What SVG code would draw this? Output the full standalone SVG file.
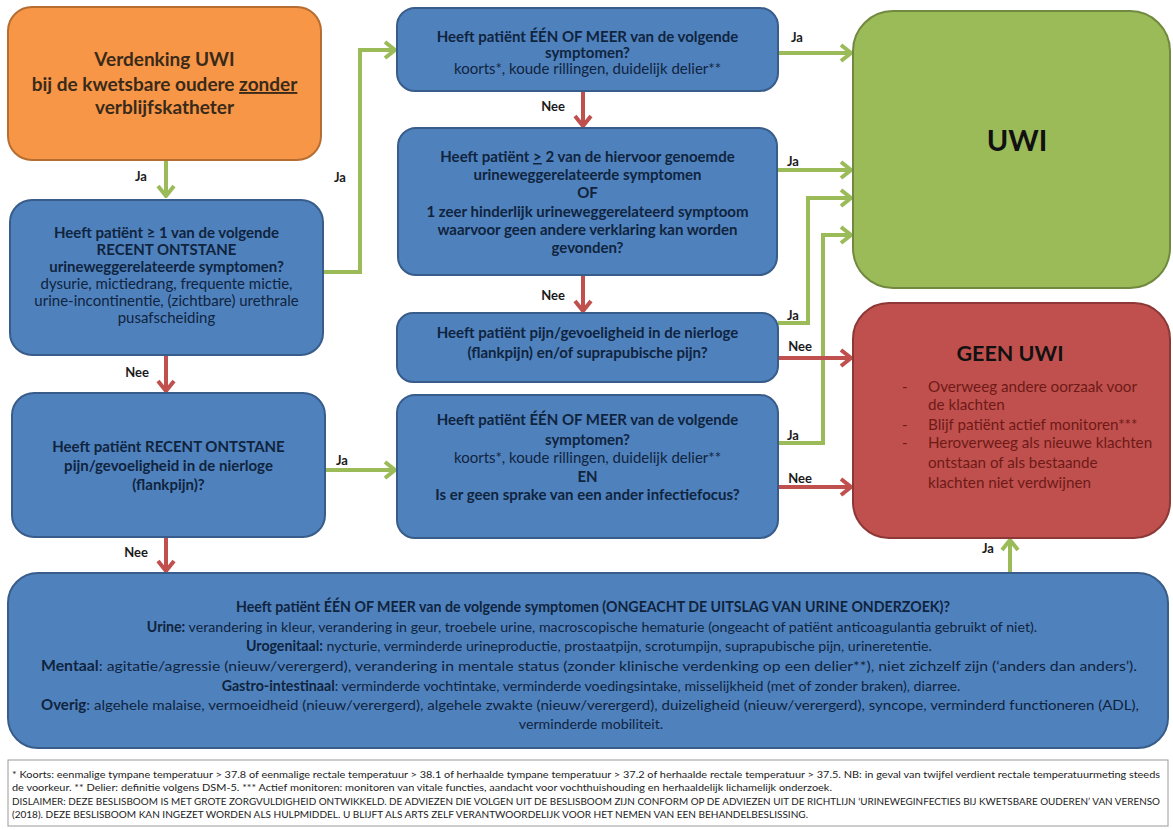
<svg xmlns="http://www.w3.org/2000/svg" width="1173" height="830" viewBox="0 0 1173 830">
<style>
text { font-family: Lato, "Liberation Sans", sans-serif; }
.box-blue { fill: #4F81BD; stroke: #385D8A; stroke-width: 2; }
.box-orange { fill: #F79646; stroke: #B66D31; stroke-width: 2; }
.box-green { fill: #9BBB59; stroke: #71893F; stroke-width: 2; }
.box-red { fill: #C0504D; stroke: #8C3836; stroke-width: 2; }
.t { fill: #0F243E; font-size: 15px; text-anchor: middle; }
.tb { font-weight: bold; }
.lbl { fill: #1a1a1a; font-size: 13px; font-weight: bold; text-anchor: middle; }
.g { fill: none; stroke: #9BBB59; stroke-width: 4; }
.r { fill: none; stroke: #C0504D; stroke-width: 4; }
.bt { fill: #0F243E; font-size: 14.2px; text-anchor: middle; }
.ft { fill: #222; font-size: 10px; }
.gt { fill: #6d1a18; font-size: 15.2px; }
</style>
<defs>
<marker id="ag" viewBox="-13 -10 15 20" refX="0" refY="0" markerWidth="15" markerHeight="20" markerUnits="userSpaceOnUse" orient="auto">
<path d="M-10,-8 L0,0 L-10,8" fill="none" stroke="#9BBB59" stroke-width="4"/>
</marker>
<marker id="ar" viewBox="-13 -10 15 20" refX="0" refY="0" markerWidth="15" markerHeight="20" markerUnits="userSpaceOnUse" orient="auto">
<path d="M-10,-8 L0,0 L-10,8" fill="none" stroke="#C0504D" stroke-width="4"/>
</marker>
</defs>
<rect width="1173" height="830" fill="#ffffff"/>

<g id="connectors">
<path class="g" d="M166,160 V196" marker-end="url(#ag)"/>
<path class="g" d="M323,272 H360 V50 H395" marker-end="url(#ag)"/>
<path class="g" d="M778,53 H851" marker-end="url(#ag)"/>
<path class="g" d="M777,170 H851" marker-end="url(#ag)"/>
<path class="g" d="M778,323 H808 V198 H851" marker-end="url(#ag)"/>
<path class="g" d="M778,443 H823 V235 H851" marker-end="url(#ag)"/>
<path class="g" d="M325,470 H395" marker-end="url(#ag)"/>
<path class="g" d="M1010,573 V540" marker-end="url(#ag)"/>
<path class="r" d="M166,355 V391" marker-end="url(#ar)"/>
<path class="r" d="M166,537 V571" marker-end="url(#ar)"/>
<path class="r" d="M583,91 V126" marker-end="url(#ar)"/>
<path class="r" d="M583,275 V311" marker-end="url(#ar)"/>
<path class="r" d="M778,358 H851" marker-end="url(#ar)"/>
<path class="r" d="M778,487 H851" marker-end="url(#ar)"/>
<text class="lbl" x="141" y="181">Ja</text>
<text class="lbl" x="340" y="182">Ja</text>
<text class="lbl" x="137" y="377">Nee</text>
<text class="lbl" x="136" y="557">Nee</text>
<text class="lbl" x="342" y="465">Ja</text>
<text class="lbl" x="553" y="111">Nee</text>
<text class="lbl" x="553" y="300">Nee</text>
<text class="lbl" x="797" y="42">Ja</text>
<text class="lbl" x="793" y="166">Ja</text>
<text class="lbl" x="793" y="320">Ja</text>
<text class="lbl" x="800" y="351">Nee</text>
<text class="lbl" x="793" y="440">Ja</text>
<text class="lbl" x="800" y="483">Nee</text>
<text class="lbl" x="988" y="553">Ja</text>
</g>

<g id="start">
<rect class="box-orange" x="8" y="7" width="313" height="153" rx="24"/>
<text x="164.5" y="66" font-size="19" font-weight="bold" fill="#3a2a1a" text-anchor="middle">Verdenking UWI</text>
<text x="164.5" y="91" font-size="19" font-weight="bold" fill="#3a2a1a" text-anchor="middle">bij de kwetsbare oudere <tspan text-decoration="underline">zonder</tspan></text>
<text x="164.5" y="114" font-size="19" font-weight="bold" fill="#3a2a1a" text-anchor="middle">verblijfskatheter</text>
</g>

<g id="q-recent-symptoms">
<rect class="box-blue" x="10" y="200" width="313" height="155" rx="22"/>
<text class="t tb" x="166.5" y="238">Heeft patiënt ≥ 1 van de volgende</text>
<text class="t tb" x="166.5" y="255">RECENT ONTSTANE</text>
<text class="t tb" x="166.5" y="272">urineweggerelateerde symptomen?</text>
<text class="t" x="166.5" y="289">dysurie, mictiedrang, frequente mictie,</text>
<text class="t" x="166.5" y="306">urine-incontinentie, (zichtbare) urethrale</text>
<text class="t" x="166.5" y="323">pusafscheiding</text>
</g>

<g id="q-recent-flank">
<rect class="box-blue" x="12" y="393" width="313" height="144" rx="22"/>
<text class="t tb" x="168.5" y="452" font-size="14.5">Heeft patiënt RECENT ONTSTANE</text>
<text class="t tb" x="168.5" y="471" font-size="14.5">pijn/gevoeligheid in de nierloge</text>
<text class="t tb" x="168.5" y="490" font-size="14.5">(flankpijn)?</text>
</g>

<g id="q-fever">
<rect class="box-blue" x="397" y="8" width="381" height="83" rx="18"/>
<text class="t tb" x="587.5" y="42">Heeft patiënt ÉÉN OF MEER van de volgende</text>
<text class="t tb" x="587.5" y="58">symptomen?</text>
<text class="t" x="587.5" y="74">koorts*, koude rillingen, duidelijk delier**</text>
</g>

<g id="q-two-symptoms">
<rect class="box-blue" x="398" y="128" width="379" height="147" rx="18"/>
<text class="t tb" x="587.5" y="162">Heeft patiënt <tspan text-decoration="underline">&gt;</tspan> 2 van de hiervoor genoemde</text>
<text class="t tb" x="587.5" y="180">urineweggerelateerde symptomen</text>
<text class="t tb" x="587.5" y="198">OF</text>
<text class="t tb" x="587.5" y="217">1 zeer hinderlijk urineweggerelateerd symptoom</text>
<text class="t tb" x="587.5" y="235">waarvoor geen andere verklaring kan worden</text>
<text class="t tb" x="587.5" y="253">gevonden?</text>
</g>

<g id="q-pain">
<rect class="box-blue" x="397" y="313" width="381" height="69" rx="16"/>
<text class="t tb" x="587.5" y="338">Heeft patiënt pijn/gevoeligheid in de nierloge</text>
<text class="t tb" x="587.5" y="358">(flankpijn) en/of suprapubische pijn?</text>
</g>

<g id="q-fever-focus">
<rect class="box-blue" x="397" y="395" width="381" height="143" rx="18"/>
<text class="t tb" x="587.5" y="425">Heeft patiënt ÉÉN OF MEER van de volgende</text>
<text class="t tb" x="587.5" y="445">symptomen?</text>
<text class="t" x="587.5" y="463">koorts*, koude rillingen, duidelijk delier**</text>
<text class="t tb" x="587.5" y="482">EN</text>
<text class="t tb" x="587.5" y="500">Is er geen sprake van een ander infectiefocus?</text>
</g>

<g id="uwi">
<rect class="box-green" x="853" y="11" width="317" height="277" rx="40"/>
<text x="1017" y="151" font-size="29" font-weight="bold" fill="#111" text-anchor="middle">UWI</text>
</g>

<g id="geen-uwi">
<rect class="box-red" x="853" y="303" width="317" height="235" rx="36"/>
<text x="1010" y="361" font-size="21.5" font-weight="bold" fill="#111" text-anchor="middle">GEEN UWI</text>
<text class="gt" x="902" y="392">-</text>
<text class="gt" x="928" y="392">Overweeg andere oorzaak voor</text>
<text class="gt" x="928" y="410">de klachten</text>
<text class="gt" x="902" y="430">-</text>
<text class="gt" x="928" y="430">Blijf patiënt actief monitoren***</text>
<text class="gt" x="902" y="448">-</text>
<text class="gt" x="928" y="448">Heroverweeg als nieuwe klachten</text>
<text class="gt" x="928" y="468">ontstaan of als bestaande</text>
<text class="gt" x="928" y="488">klachten niet verdwijnen</text>
</g>

<g id="q-general">
<rect class="box-blue" x="8" y="573" width="1160" height="175" rx="30"/>
<text class="bt tb" x="593" y="612">Heeft patiënt ÉÉN OF MEER van de volgende symptomen (ONGEACHT DE UITSLAG VAN URINE ONDERZOEK)?</text>
<text class="bt" x="592" y="632"><tspan font-weight="bold">Urine:</tspan> verandering in kleur, verandering in geur, troebele urine, macroscopische hematurie (ongeacht of patiënt anticoagulantia gebruikt of niet).</text>
<text class="bt" x="589" y="651"><tspan font-weight="bold">Urogenitaal:</tspan> nycturie, verminderde urineproductie, prostaatpijn, scrotumpijn, suprapubische pijn, urineretentie.</text>
<text class="bt" x="589" y="671" textLength="1096" lengthAdjust="spacingAndGlyphs"><tspan font-weight="bold">Mentaal</tspan>: agitatie/agressie (nieuw/verergerd), verandering in mentale status (zonder klinische verdenking op een delier**), niet zichzelf zijn (‘anders dan anders’).</text>
<text class="bt" x="591" y="691"><tspan font-weight="bold">Gastro-intestinaal</tspan>: verminderde vochtintake, verminderde voedingsintake, misselijkheid (met of zonder braken), diarree.</text>
<text class="bt" x="590" y="710" textLength="1098" lengthAdjust="spacingAndGlyphs"><tspan font-weight="bold">Overig</tspan>: algehele malaise, vermoeidheid (nieuw/verergerd), algehele zwakte (nieuw/verergerd), duizeligheid (nieuw/verergerd), syncope, verminderd functioneren (ADL),</text>
<text class="bt" x="591" y="729">verminderde mobiliteit.</text>
</g>

<g id="footer">
<rect x="8" y="760" width="1160" height="66" fill="#ffffff" stroke="#9a9a9a" stroke-width="1"/>
<text class="ft" x="12" y="778" textLength="1148" lengthAdjust="spacingAndGlyphs">* Koorts: eenmalige tympane temperatuur &gt; 37.8 of eenmalige rectale temperatuur &gt; 38.1 of herhaalde tympane temperatuur &gt; 37.2 of herhaalde rectale temperatuur &gt; 37.5. NB: in geval van twijfel verdient rectale temperatuurmeting steeds</text>
<text class="ft" x="12" y="791" textLength="820" lengthAdjust="spacingAndGlyphs">de voorkeur. ** Delier: definitie volgens DSM-5. *** Actief monitoren: monitoren van vitale functies, aandacht voor vochthuishouding en herhaaldelijk lichamelijk onderzoek.</text>
<text class="ft" x="12" y="805" font-size="9.6" textLength="1148" lengthAdjust="spacingAndGlyphs">DISLAIMER: DEZE BESLISBOOM IS MET GROTE ZORGVULDIGHEID ONTWIKKELD. DE ADVIEZEN DIE VOLGEN UIT DE BESLISBOOM ZIJN CONFORM OP DE ADVIEZEN UIT DE RICHTLIJN ‘URINEWEGINFECTIES BIJ KWETSBARE OUDEREN’ VAN VERENSO</text>
<text class="ft" x="12" y="818" font-size="9.6" textLength="796" lengthAdjust="spacingAndGlyphs">(2018). DEZE BESLISBOOM KAN INGEZET WORDEN ALS HULPMIDDEL. U BLIJFT ALS ARTS ZELF VERANTWOORDELIJK VOOR HET NEMEN VAN EEN BEHANDELBESLISSING.</text>
</g>
</svg>
